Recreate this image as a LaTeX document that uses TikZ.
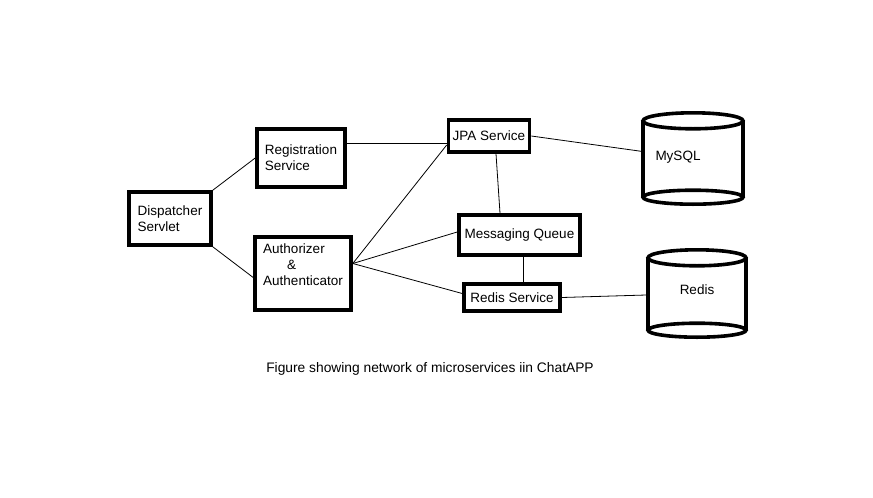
\documentclass[tikz,border=0pt]{standalone}
\usepackage{fontspec}
\setmainfont{Liberation Sans}
\usepackage{tikz}
\usetikzlibrary{positioning,calc}

\begin{document}
\begin{tikzpicture}[
    x=1pt, y=-1pt,
    every node/.style={font=\fontsize{13.5}{16}\selectfont},
    svc/.style={rectangle, draw, line width=3.6pt, inner sep=2pt},
    db/.style={rectangle, inner sep=0pt},
    dbline/.style={line width=3.6pt},
    link/.style={line width=0.8pt},
]
    \useasboundingbox (0,0) rectangle (873,498);

    % SERVICES (left to middle)
    \node[svc, minimum width=82, minimum height=53, align=left] (disp) at (170,218.5) {Dispatcher\\Servlet};
    \node[svc, minimum width=88, minimum height=58, align=left] (reg) at (301,158) {Registration\\Service};
    \node[svc, minimum width=96, minimum height=73, align=left, text depth=17pt] (auth) at (303,273.5) {Authorizer\\\hspace*{24pt}\&\\Authenticator};
    \node[svc, minimum width=81, minimum height=32] (jpa) at (489,136) {JPA Service};
    \node[svc, minimum width=121, minimum height=40] (mq) at (519.5,235) {Messaging Queue};
    \node[svc, minimum width=96, minimum height=27] (rs) at (512,297.5) {Redis Service};

    % DATABASES (right)
    \node[db, minimum width=100, minimum height=93] (mysql) at (693,158.5) {};
    \node (mysqllabel) at (678,157) {MySQL};
    \draw[dbline] ([yshift=-9pt]mysql.north) ellipse[x radius=50, y radius=8];
    \draw[dbline] ([yshift=-9pt]mysql.north west) -- ([yshift=8pt]mysql.south west);
    \draw[dbline] ([yshift=-9pt]mysql.north east) -- ([yshift=8pt]mysql.south east);
    \draw[dbline] ([yshift=8pt]mysql.south) ellipse[x radius=50, y radius=7];

    \node[db, minimum width=98, minimum height=89] (redis) at (697,293.5) {};
    \node[yshift=4pt] (redislabel) at (redis) {Redis};
    \draw[dbline] ([yshift=-9pt]redis.north) ellipse[x radius=49, y radius=8];
    \draw[dbline] ([yshift=-9pt]redis.north west) -- ([yshift=8pt]redis.south west);
    \draw[dbline] ([yshift=-9pt]redis.north east) -- ([yshift=8pt]redis.south east);
    \draw[dbline] ([yshift=8pt]redis.south) ellipse[x radius=49, y radius=7];

    % CONNECTIONS
    \coordinate (fan) at ([yshift=10pt]auth.east);
    \draw[link] (disp.north east) -- (reg.west);
    \draw[link] (disp.south east) -- ([yshift=-4pt]auth.west);
    \draw[link] ([yshift=15pt]reg.east) -- ([yshift=-7pt]jpa.west);
    \draw[link] (fan) -- ([yshift=-9pt]jpa.west);
    \draw[link] (fan) -- ([yshift=3pt]mq.west);
    \draw[link] (fan) -- ([yshift=4pt]rs.west);
    \draw[link] (jpa.east) -- (mysql);
    \draw[link] ([xshift=7pt]jpa.south) -- ([xshift=-19.5pt]mq.north);
    \draw[link] ([xshift=3.5pt]mq.south) -- ([xshift=11pt]rs.north);
    \draw[link] (rs.east) -- (redis);

    % CAPTION
    \node[font=\fontsize{13.8}{16}\selectfont] (caption) at (430,369) {Figure showing network of microservices iin ChatAPP};
\end{tikzpicture}
\end{document}
